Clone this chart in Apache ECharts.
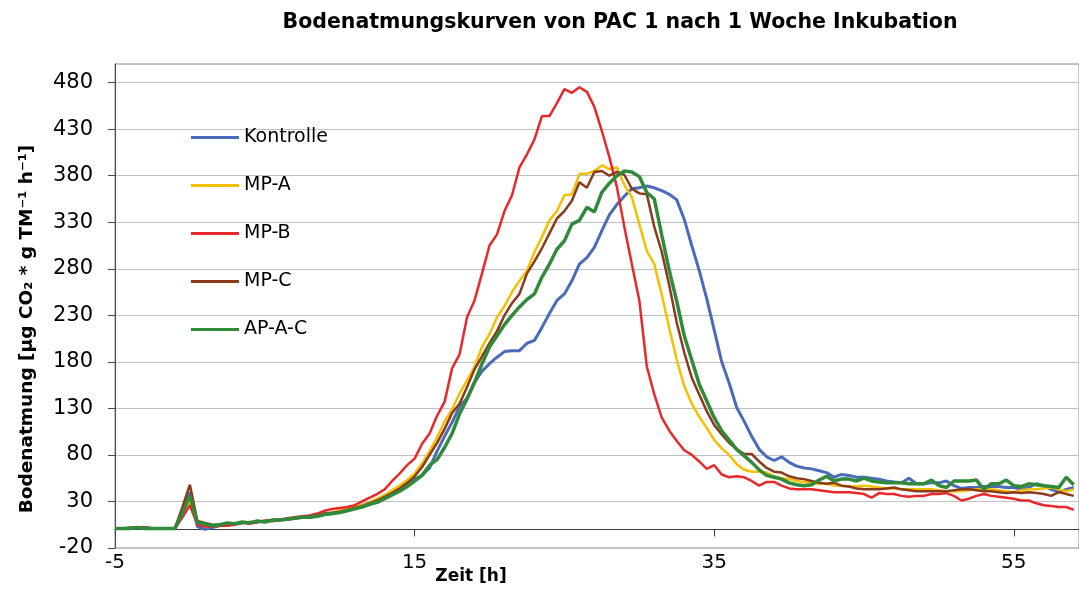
<!DOCTYPE html>
<html>
<head>
<meta charset="utf-8">
<script src="https://cdn.jsdelivr.net/npm/echarts@6/dist/echarts.min.js"></script>
<style>
  html, body { margin: 0; padding: 0; background: #fff; }
  #chart { width: 1079px; height: 589px; }
</style>
</head>
<body>
<div id="chart"></div>
<script>
// time axis [h], one reading every half hour
let hours = [
  -5, -4.5, -4, -3.5, -3, -2.5, -2, -1.5, -1, -0.5,
  0, 0.5, 1, 1.5, 2, 2.5, 3, 3.5, 4, 4.5,
  5, 5.5, 6, 6.5, 7, 7.5, 8, 8.5, 9, 9.5,
  10, 10.5, 11, 11.5, 12, 12.5, 13, 13.5, 14, 14.5,
  15, 15.5, 16, 16.5, 17, 17.5, 18, 18.5, 19, 19.5,
  20, 20.5, 21, 21.5, 22, 22.5, 23, 23.5, 24, 24.5,
  25, 25.5, 26, 26.5, 27, 27.5, 28, 28.5, 29, 29.5,
  30, 30.5, 31, 31.5, 32, 32.5, 33, 33.5, 34, 34.5,
  35, 35.5, 36, 36.5, 37, 37.5, 38, 38.5, 39, 39.5,
  40, 40.5, 41, 41.5, 42, 42.5, 43, 43.5, 44, 44.5,
  45, 45.5, 46, 46.5, 47, 47.5, 48, 48.5, 49, 49.5,
  50, 50.5, 51, 51.5, 52, 52.5, 53, 53.5, 54, 54.5,
  55, 55.5, 56, 56.5, 57, 57.5, 58, 58.5, 59
];

let kontrolle = [
  1, 1, 1, 2, 2, 1, 1, 1, 1, 20,
  40, 3, 0, 2, 4, 5, 6, 7, 7, 8,
  9, 9, 10, 11, 12, 13, 13, 15, 16, 17,
  19, 21, 23, 26, 29, 32, 35, 39, 43, 48,
  54, 58, 66, 84, 100, 115, 132, 141, 158, 170,
  178, 185, 191, 192, 192, 200, 203, 217, 232, 246,
  253, 267, 285, 292, 303, 321, 338, 349, 358, 366,
  367, 369, 367, 364, 360, 354, 333, 305, 278, 248,
  214, 180, 157, 131, 116, 100, 86, 78, 74, 78,
  72, 68, 66, 65, 63, 61, 56, 59, 58, 56,
  56, 55, 54, 52, 51, 50, 55, 49, 49, 50,
  50, 52, 47, 44, 45, 45, 46, 46, 46, 45,
  45, 43, 45, 49, 47, 43, 40, 43, 45
];

let mpA = [
  1, 1, 1, 2, 2, 1, 1, 1, 1, 16,
  30, 6, 4, 4, 4, 5, 6, 7, 7, 8,
  9, 9, 10, 11, 12, 13, 14, 15, 17, 18,
  20, 22, 24, 26, 29, 33, 37, 42, 47, 53,
  60, 71, 84, 99, 116, 129, 146, 160, 175, 196,
  210, 228, 240, 255, 267, 278, 298, 314, 332, 342,
  359, 360, 382, 382, 385, 391, 387, 389, 370, 357,
  328, 299, 285, 252, 216, 182, 154, 135, 121, 109,
  96, 87, 80, 70, 64, 62, 62, 61, 57, 55,
  54, 52, 51, 50, 49, 49, 47, 47, 46, 46,
  47, 46, 45, 44, 44, 43, 43, 43, 43, 43,
  42, 41, 41, 41, 42, 43, 43, 43, 42, 41,
  40, 42, 43, 43, 44, 45, 43, 41, 43
];

let mpB = [
  1, 1, 1, 2, 2, 1, 1, 1, 1, 13,
  26, 5, 3, 3, 4, 4, 5, 7, 6, 8,
  9, 10, 10, 12, 13, 14, 15, 17, 20, 22,
  23, 24, 26, 30, 34, 38, 43, 52, 60, 69,
  76, 92, 103, 122, 137, 173, 188, 228, 246, 275,
  305, 317, 342, 359, 389, 403, 419, 444, 444, 458,
  473, 469, 475, 470, 454, 428, 400, 368, 325, 285,
  246, 175, 145, 120, 106, 95, 85, 80, 73, 65,
  69, 59, 56, 57, 56, 52, 47, 51, 51, 47,
  44, 43, 43, 43, 42, 41, 40, 40, 40, 39,
  38, 34, 39, 38, 38, 36, 35, 36, 36, 38,
  38, 39, 36, 31, 33, 36, 38, 36, 35, 34,
  33, 31, 31, 28, 26, 25, 24, 24, 21
];

let mpC = [
  1, 1, 2, 2, 2, 1, 1, 1, 1, 24,
  48, 9, 7, 5, 5, 6, 6, 7, 8, 8,
  9, 10, 10, 11, 12, 13, 14, 15, 17, 18,
  19, 21, 23, 25, 28, 31, 35, 39, 44, 50,
  57, 67, 80, 93, 108, 125, 135, 153, 172, 186,
  200, 213, 230, 243, 253, 275, 288, 302, 318, 334,
  342, 353, 373, 367, 384, 385, 380, 384, 381, 366,
  361, 360, 325, 298, 262, 222, 190, 163, 145, 127,
  112, 102, 93, 86, 81, 81, 73, 66, 62, 61,
  57, 55, 54, 52, 50, 49, 50, 47, 46, 44,
  43, 43, 43, 44, 45, 43, 42, 41, 41, 41,
  41, 41, 42, 43, 43, 42, 41, 41, 40, 39,
  40, 39, 40, 39, 38, 36, 40, 38, 36
];

let apAC = [
  1, 1, 1, 2, 1, 1, 1, 1, 1, 18,
  36, 7, 6, 4, 5, 7, 6, 8, 7, 9,
  8, 10, 10, 11, 12, 13, 13, 14, 16, 17,
  18, 20, 22, 24, 27, 29, 33, 37, 41, 46,
  52, 58, 69, 75, 88, 103, 124, 140, 158, 178,
  196, 208, 220, 230, 239, 247, 253, 271, 285, 301,
  310, 328, 332, 346, 341, 362, 372, 380, 385, 384,
  379, 362, 355, 316, 278, 245, 208, 182, 156, 138,
  120, 106, 96, 86, 79, 72, 64, 58, 56, 54,
  50, 48, 47, 48, 53, 57, 52, 54, 54, 52,
  55, 52, 51, 50, 50, 50, 49, 49, 49, 53,
  47, 45, 52, 52, 52, 53, 43, 49, 49, 53,
  47, 46, 49, 48, 47, 46, 45, 56, 48
];

let seriesNames = ['Kontrolle', 'MP-A', 'MP-B', 'MP-C', 'AP-A-C'];
let seriesValues = [kontrolle, mpA, mpB, mpC, apAC];
let seriesColors = ['#4a6bb8', '#f5c000', '#e8282b', '#8b3a1c', '#2f8a3a'];
let seriesWidths = [3, 2.5, 2.5, 2.5, 3.5];

let yTicks = [-20, 30, 80, 130, 180, 230, 280, 330, 380, 430, 480];
let xTicks = [-5, 15, 35, 55];

const FONT = 'DejaVu Sans';

let chart = echarts.init(document.getElementById('chart'), null, {renderer: 'canvas'});

let series = seriesNames.map(function (name, k) {
  return {
    name: name,
    type: 'line',
    xAxisIndex: 0,
    yAxisIndex: 0,
    symbol: 'none',
    smooth: false,
    lineStyle: {color: seriesColors[k], width: seriesWidths[k]},
    itemStyle: {color: seriesColors[k]},
    data: hours.map(function (h, i) { return [h, seriesValues[k][i]]; })
  };
});

chart.setOption({
  animation: false,
  backgroundColor: '#ffffff',
  grid: {
    left: 115, top: 64, right: -2, bottom: 41,
    show: true, borderColor: '#8c8c8c', borderWidth: 1, backgroundColor: 'transparent'
  },
  legend: {
    orient: 'vertical',
    left: 186,
    top: 123,
    itemWidth: 48,
    itemHeight: 3,
    itemGap: 29,
    icon: 'rect',
    data: seriesNames,
    textStyle: {fontFamily: FONT, fontSize: 19, color: '#000'}
  },
  xAxis: [{
    type: 'value',
    position: 'bottom',
    min: -5,
    max: 59.35,
    axisLine: {show: false, onZero: false},
    axisTick: {show: false, customValues: xTicks},
    axisLabel: {
      customValues: xTicks,
      margin: 5,
      fontFamily: FONT, fontSize: 20, color: '#000'
    },
    splitLine: {show: false}
  }, {
    type: 'value',
    position: 'bottom',
    min: -5,
    max: 59.35,
    axisLine: {show: true, onZero: true, lineStyle: {color: '#3a3a3a', width: 1}},
    axisTick: {show: true, length: 7, customValues: xTicks, lineStyle: {color: '#3a3a3a'}},
    axisLabel: {show: false},
    splitLine: {show: false}
  }],
  yAxis: {
    type: 'value',
    min: -20,
    max: 500,
    axisLine: {show: true, onZero: false, lineStyle: {color: '#4a4a4a', width: 1}},
    axisTick: {show: true, length: 7, customValues: yTicks, lineStyle: {color: '#4a4a4a'}},
    axisLabel: {
      customValues: yTicks,
      margin: 22,
      fontFamily: FONT, fontSize: 21, color: '#000'
    },
    splitLine: {show: true, lineStyle: {color: '#c0c0c6', width: 1}}
  },
  graphic: [{
    type: 'text',
    x: 620, y: 23,
    style: {
      text: 'Bodenatmungskurven von PAC 1 nach 1 Woche Inkubation',
      fontFamily: FONT, fontSize: 20.5, fontWeight: 'bold', fill: '#000',
      align: 'center', verticalAlign: 'middle',
      textAlign: 'center', textVerticalAlign: 'middle'
    }
  }, {
    type: 'text',
    x: 471, y: 577,
    style: {
      text: 'Zeit [h]',
      fontFamily: FONT, fontSize: 17, fontWeight: 'bold', fill: '#000',
      align: 'center', verticalAlign: 'middle',
      textAlign: 'center', textVerticalAlign: 'middle'
    }
  }, {
    type: 'text',
    x: 27, y: 329,
    rotation: Math.PI / 2,
    style: {
      text: 'Bodenatmung [µg CO\u2082 * g TM\u207b\u00b9 h\u207b\u00b9]',
      fontFamily: FONT, fontSize: 18.5, fontWeight: 'bold', fill: '#000',
      align: 'center', verticalAlign: 'middle',
      textAlign: 'center', textVerticalAlign: 'middle'
    }
  }],
  series: series
});
</script>
</body>
</html>
